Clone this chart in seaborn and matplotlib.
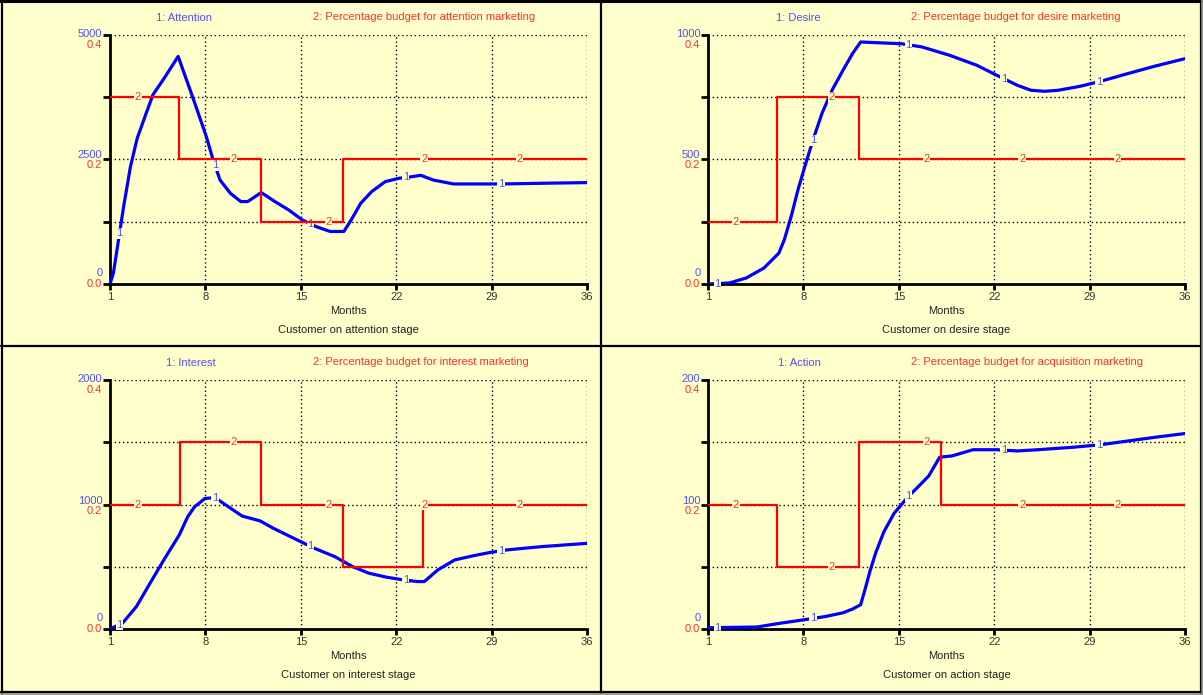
import numpy as np
import pandas as pd
import seaborn as sns
import matplotlib.pyplot as plt
from matplotlib.lines import Line2D

# ---- data ----
att_month = [1, 1.25, 1.7, 2.0, 2.5, 3.0, 3.65, 4.15, 5.04, 6.0, 7.06, 8.07, 8.57, 9.07,
             9.83, 10.6, 11.1, 12.1, 13.1, 14.1, 15.1, 16.1, 17.15, 18.16, 18.7, 19.4,
             20.2, 21.2, 22.2, 23.2, 23.8, 24.7, 26.2, 29.8, 32.8, 36]
att_value = [0, 220, 1020, 1555, 2356, 2930, 3425, 3800, 4159, 4570, 3758, 2957, 2490, 2089,
             1822, 1655, 1655, 1836, 1655, 1489, 1288, 1155, 1055, 1055, 1288, 1622,
             1856, 2056, 2123, 2156, 2183, 2089, 2009, 2009, 2023, 2036]
att_budget_month = [1, 6.05, 12.1, 18.1, 36]
att_budget = [0.3, 0.2, 0.1, 0.2, 0.2]

des_month = [1, 2.56, 3.8, 5.1, 6.2, 6.6, 7.1, 7.6, 8.1, 8.7, 9.36, 10.1, 10.9, 11.6, 12.2,
             13.4, 15.2, 16.7, 18.7, 20.7, 22.2, 23.7, 24.7, 25.7, 26.7, 28.3, 29.8, 31.8,
             33.8, 36]
des_value = [0, 4, 24, 64, 124, 178, 271, 378, 471, 578, 685, 778, 858, 925, 972,
             969, 965, 952, 919, 879, 838, 798, 778, 774, 778, 794, 814, 845, 875, 905]
des_budget_month = [1, 6.05, 12.1, 36]
des_budget = [0.1, 0.3, 0.2, 0.2]

int_month = [1, 1.93, 2.94, 3.94, 4.95, 6.08, 6.7, 7.2, 7.96, 8.7, 9.7, 10.7, 12.0, 13.0,
             14.5, 16.0, 17.5, 18.8, 20.0, 21.3, 22.5, 23.55, 24.06, 25.06, 26.3, 27.6,
             28.8, 30.1, 32.6, 36]
int_value = [0, 48, 181, 368, 555, 755, 901, 981, 1048, 1056, 981, 907, 869, 808,
             728, 648, 581, 501, 448, 416, 395, 381, 381, 475, 555, 587, 613, 635, 661, 688]
int_budget_month = [1, 6.1, 12.1, 18.1, 24.0, 36]
int_budget = [0.2, 0.3, 0.2, 0.1, 0.2, 0.2]

act_month = [1, 4.6, 6.1, 8.1, 9.6, 10.9, 11.6, 12.2, 12.5, 12.9, 13.3, 13.9, 14.66, 15.16,
             15.66, 16.4, 17.2, 18.0, 18.9, 20.45, 22.2, 23.7, 25.2, 27.8, 29.8, 31.8, 33.8, 36]
act_value = [1, 1.6, 4.3, 7.5, 10, 13, 16, 19.5, 31, 47, 61, 78, 93, 99.5,
             106, 114, 123, 138, 139, 144, 144, 143, 144, 146, 148, 151, 154, 157]
act_budget_month = [1, 6.05, 12.1, 18.1, 36]
act_budget = [0.2, 0.1, 0.3, 0.2, 0.2]

month_ticks = [1, 8, 15, 22, 29, 36]
label1_months = [1.7, 8.7, 15.7, 22.7, 29.7]
label2_months = [3.05, 10.05, 17.05, 24.05, 31.05]

panels = [
    # name, budget name, months, values, ymax, ytick labels, budget x, budget y, axes left/top px, blue title offset
    ("Attention", "attention", att_month, att_value, 5000, ["0", "2500", "5000"],
     att_budget_month, att_budget, 110, 35, 74),
    ("Desire", "desire", des_month, des_value, 1000, ["0", "500", "1000"],
     des_budget_month, des_budget, 708, 35, 90),
    ("Interest", "interest", int_month, int_value, 2000, ["0", "1000", "2000"],
     int_budget_month, int_budget, 110, 380, 81),
    ("Action", "acquisition", act_month, act_value, 200, ["0", "100", "200"],
     act_budget_month, act_budget, 708, 380, 91),
]
captions = ["attention", "desire", "interest", "action"]

BG = "#FFFFCC"
BLUE = "#0000FF"
RED = "#FF0000"
BLUE_TXT = "#5050FF"
RED_TXT = "#FF3030"
W, H = 1203, 695
AW, AH = 477, 249
FS = 8

sns.set_theme(style="white")
plt.rcParams["font.family"] = ["Liberation Sans", "DejaVu Sans"]
plt.rcParams["font.size"] = FS

fig = plt.figure(figsize=(W / 100, H / 100), dpi=100, facecolor=BG)

def fx(px):
    return px / W

def fy(py):
    return 1 - py / H

for i, (name, bname, mon, val, ymax, ylabs, bm, bv, left, top, tof) in enumerate(panels):
    ax = fig.add_axes([fx(left), fy(top + AH), AW / W, AH / H])
    ax.set_facecolor(BG)
    ax2 = ax.twinx()
    ax.set_xlim(1, 36)
    ax.set_ylim(0, ymax)
    ax2.set_ylim(0, 0.4)

    # grid
    for m in month_ticks[1:]:
        ax.axvline(m, color="black", lw=1, ls=(0, (1, 2)), zorder=0)
    for q in [0.25, 0.5, 0.75, 1.0]:
        ax.axhline(ymax * q, color="black", lw=1, ls=(0, (1, 2)), zorder=0)

    df = pd.DataFrame({"Months": mon, "value": val})
    sns.lineplot(data=df, x="Months", y="value", ax=ax, color=BLUE, lw=2.3,
                 estimator=None, sort=False, zorder=3)
    bdf = pd.DataFrame({"Months": bm, "budget": bv})
    sns.lineplot(data=bdf, x="Months", y="budget", ax=ax2, color=RED, lw=1.6,
                 estimator=None, sort=False, drawstyle="steps-post", zorder=3)

    # series number labels on the lines
    for m in label1_months:
        ax.text(m, np.interp(m, mon, val), "1", color=BLUE_TXT, ha="center", va="center",
                fontsize=FS, zorder=5,
                bbox=dict(boxstyle="square,pad=0.05", fc=BG, ec="none"))
    for m in label2_months:
        k = np.searchsorted(bm, m, side="right") - 1
        ax2.text(m, bv[k], "2", color=RED_TXT, ha="center", va="center",
                 fontsize=FS, zorder=5,
                 bbox=dict(boxstyle="square,pad=0.05", fc=BG, ec="none"))

    # axes styling
    for s in ["top", "right"]:
        ax.spines[s].set_visible(False)
    for s in ax2.spines.values():
        s.set_visible(False)
    ax.spines["left"].set_color("black")
    ax.spines["left"].set_linewidth(2)
    ax.spines["bottom"].set_color("black")
    ax.spines["bottom"].set_linewidth(2)
    ax.set_yticks([ymax * q for q in [0, 0.25, 0.5, 0.75, 1.0]])
    ax.set_yticklabels([])
    ax.tick_params(axis="y", direction="out", length=5, width=2, color="black", left=True)
    ax.set_xticks(month_ticks)
    ax.set_xticklabels([str(m) for m in month_ticks], color="#333333", fontsize=FS)
    ax.tick_params(axis="x", direction="out", length=4, width=2, color="black",
                   bottom=True, pad=2)
    ax2.set_yticks([])
    ax.set_xlabel("")
    ax.set_ylabel("")
    ax2.set_ylabel("")

    # y labels, blue on top of red
    red_labs = ["0.0", "0.2", "0.4"]
    offs = [(11, 0), (4, -6), (1, -10)]
    for frac, bl, rl, (db, dr) in zip([0, 0.5, 1.0], ylabs, red_labs, offs):
        ax.annotate(bl, xy=(0, frac), xycoords="axes fraction", xytext=(-5.5, db * 0.72),
                    textcoords="offset points", ha="right", va="center", color=BLUE_TXT,
                    fontsize=FS, annotation_clip=False)
        ax.annotate(rl, xy=(0, frac), xycoords="axes fraction", xytext=(-6, dr * 0.72),
                    textcoords="offset points", ha="right", va="center", color=RED_TXT,
                    fontsize=FS, annotation_clip=False)

    # titles and captions
    fig.text(fx(left + tof), fy(top - 17), f"1: {name}", color=BLUE_TXT, ha="center",
             va="center", fontsize=FS)
    fig.text(fx(left + 203), fy(top - 18), f"2: Percentage budget for {bname} marketing",
             color=RED_TXT, ha="left", va="center", fontsize=FS)
    fig.text(fx(left + AW / 2), fy(top + AH + 27), "Months", color="#222222",
             ha="center", va="center", fontsize=FS)
    fig.text(fx(left + AW / 2), fy(top + AH + 46), f"Customer on {captions[i]} stage",
             color="#222222", ha="center", va="center", fontsize=FS)

# panel borders
def hline(y, x0, x1, lw=1.6, c="black"):
    fig.add_artist(Line2D([fx(x0), fx(x1)], [fy(y), fy(y)], color=c, lw=lw))

def vline(x, y0, y1, lw=1.6, c="black"):
    fig.add_artist(Line2D([fx(x), fx(x)], [fy(y0), fy(y1)], color=c, lw=lw))

hline(1, 0, 1201, lw=2.2)
hline(346, 1, 1201)
hline(692, 1, 1201)
vline(1.5, 0, 693)
vline(601, 0, 693)
vline(1200.5, 0, 693)
hline(694, 0, 1203, lw=1.2, c="#888888")
vline(1202.3, 0, 695, lw=1.2, c="#888888")

fig.savefig("out.png", dpi=100, facecolor=BG)
